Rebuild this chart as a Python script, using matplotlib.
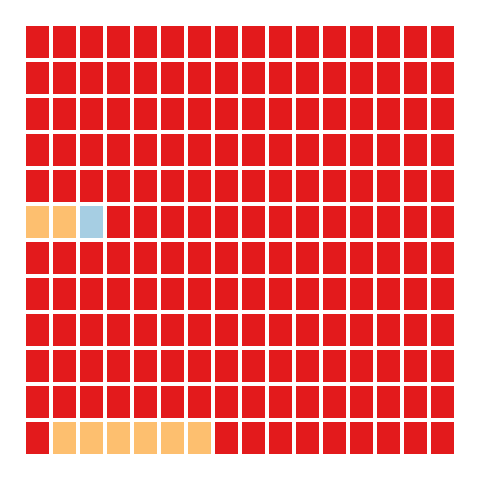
import matplotlib.pyplot as plt
from matplotlib.patches import Rectangle

# waffle grid: 16 columns x 12 rows, rows listed top to bottom
# R = red, O = orange, B = light blue
n_cols = 16
n_rows = 12
grid_rows = [
    "RRRRRRRRRRRRRRRR",
    "RRRRRRRRRRRRRRRR",
    "RRRRRRRRRRRRRRRR",
    "RRRRRRRRRRRRRRRR",
    "RRRRRRRRRRRRRRRR",
    "OOBRRRRRRRRRRRRR",
    "RRRRRRRRRRRRRRRR",
    "RRRRRRRRRRRRRRRR",
    "RRRRRRRRRRRRRRRR",
    "RRRRRRRRRRRRRRRR",
    "RRRRRRRRRRRRRRRR",
    "ROOOOOORRRRRRRRR",
]
palette = {"R": "#e31a1c", "O": "#fdbf6f", "B": "#a6cee3"}

fig = plt.figure(figsize=(4.8, 4.8), dpi=100)
# axes placed so the cell block spans 26..454 px in both directions
ax = fig.add_axes([26 / 480, 26 / 480, 432 / 480, 432 / 480])

cell_w = 22.5 / 27   # cell width relative to column pitch
cell_h = 32 / 36     # cell height relative to row pitch

for r, row in enumerate(grid_rows):
    y = n_rows - 1 - r
    for c, key in enumerate(row):
        ax.add_patch(Rectangle((c, y), cell_w, cell_h,
                               facecolor=palette[key], edgecolor="none"))

ax.set_xlim(0, n_cols)
ax.set_ylim(0, n_rows)
ax.axis("off")

fig.savefig("out.png", dpi=100)
